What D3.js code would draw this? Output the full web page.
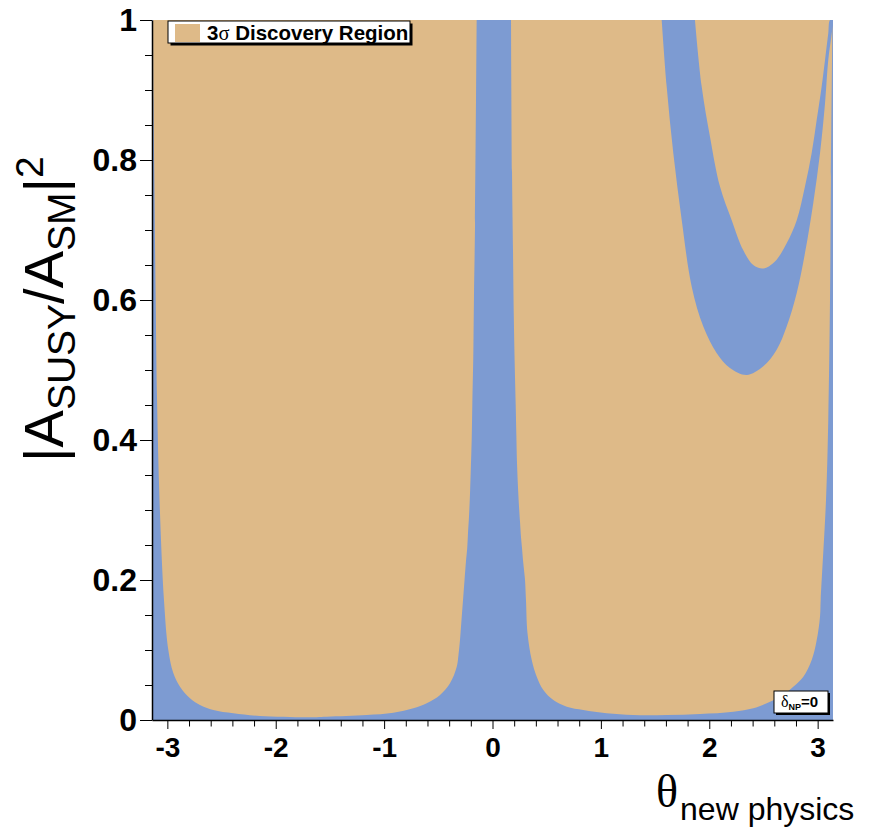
<!DOCTYPE html>
<html>
<head>
<meta charset="utf-8">
<script src="https://cdn.jsdelivr.net/npm/d3@7"></script>
<style>
  body { margin: 0; background: #fff; }
  svg { display: block; font-family: "Liberation Sans", Arial, sans-serif; }
</style>
</head>
<body>
<svg id="chart" width="870" height="828"></svg>
<script>
// boundaries: [theta, |A_SUSY/A_SM|^2]
const leftRegion = [
  [-3.132, 1.0], [-3.128, 0.886], [-3.119, 0.761], [-3.109, 0.620], [-3.095, 0.457],
  [-3.072, 0.314], [-3.031, 0.171], [-2.991, 0.100], [-2.945, 0.067], [-2.883, 0.0476],
  [-2.791, 0.031], [-2.699, 0.0214], [-2.576, 0.0143], [-2.391, 0.0096], [-2.145, 0.0057],
  [-1.714, 0.0039], [-1.530, 0.0047], [-1.161, 0.0071], [-0.915, 0.0104], [-0.731, 0.0167],
  [-0.607, 0.0239], [-0.484, 0.0357], [-0.392, 0.0524], [-0.330, 0.076], [-0.314, 0.093],
  [-0.300, 0.114], [-0.286, 0.143], [-0.272, 0.171], [-0.258, 0.200], [-0.245, 0.226],
  [-0.233, 0.246], [-0.226, 0.267], [-0.217, 0.290], [-0.208, 0.321], [-0.201, 0.354],
  [-0.192, 0.400], [-0.186, 0.453], [-0.177, 0.521], [-0.171, 0.604], [-0.161, 0.710],
  [-0.146, 1.0]
];

const rightRegion = [
  [0.171, 1.0], [0.180, 0.783], [0.189, 0.671], [0.196, 0.581], [0.205, 0.507],
  [0.214, 0.450], [0.220, 0.407], [0.226, 0.367], [0.235, 0.333], [0.245, 0.304],
  [0.254, 0.283], [0.263, 0.261], [0.272, 0.246], [0.281, 0.229], [0.291, 0.214],
  [0.300, 0.200], [0.309, 0.171], [0.323, 0.124], [0.362, 0.0857], [0.408, 0.0619],
  [0.469, 0.0429], [0.561, 0.0286], [0.685, 0.019], [0.838, 0.0143], [1.054, 0.0096],
  [1.299, 0.0071], [1.607, 0.0071], [1.914, 0.0086], [2.222, 0.0119], [2.406, 0.0167],
  [2.530, 0.0239], [2.653, 0.0333], [2.775, 0.0476], [2.868, 0.0619], [2.945, 0.0857],
  [2.991, 0.114], [3.022, 0.148], [3.028, 0.171], [3.077, 0.314], [3.098, 0.429],
  [3.114, 0.600], [3.123, 0.776], [3.137, 1.0]
];

// the blue band inside the right region
const bandOuter = [
  [1.561, 1.0], [1.607, 0.905], [1.668, 0.810], [1.746, 0.714], [1.838, 0.619],
  [1.945, 0.562], [2.069, 0.524], [2.191, 0.503], [2.345, 0.493], [2.496, 0.505],
  [2.622, 0.529], [2.714, 0.562], [2.807, 0.610], [2.883, 0.667], [2.960, 0.739],
  [3.022, 0.810], [3.068, 0.881], [3.098, 0.943], [3.130, 0.981], [3.1416, 1.0]
];
const bandInner = [
  [1.868, 1.0], [1.930, 0.905], [2.007, 0.833], [2.099, 0.762], [2.207, 0.714],
  [2.314, 0.671], [2.406, 0.650], [2.499, 0.645], [2.606, 0.655], [2.714, 0.681],
  [2.807, 0.714], [2.883, 0.762], [2.945, 0.810], [2.991, 0.857], [3.037, 0.905],
  [3.068, 0.943], [3.098, 0.981], [3.114, 1.0]
];

const xTicks = [-3, -2, -1, 0, 1, 2, 3];
const yTicks = [0, 0.2, 0.4, 0.6, 0.8, 1];

const tan = "#deba88";
const blue = "#7d9bd2";

const svg = d3.select("#chart");
const x = d3.scaleLinear().domain([-Math.PI, Math.PI]).range([152, 833]);
const y = d3.scaleLinear().domain([0, 1]).range([720, 20]);

svg.append("clipPath").attr("id", "plotclip")
  .append("rect")
  .attr("x", x(-Math.PI)).attr("y", y(1))
  .attr("width", x(Math.PI) - x(-Math.PI)).attr("height", y(0) - y(1));

const plot = svg.append("g").attr("clip-path", "url(#plotclip)");

plot.append("rect")
  .attr("x", x(-Math.PI)).attr("y", y(1))
  .attr("width", x(Math.PI) - x(-Math.PI)).attr("height", y(0) - y(1))
  .attr("fill", blue);

const line = d3.line()
  .x(d => x(d[0]))
  .y(d => y(d[1]))
  .curve(d3.curveCatmullRom);

plot.append("path").attr("d", line(leftRegion) + "Z").attr("fill", tan);
plot.append("path").attr("d", line(rightRegion) + "Z").attr("fill", tan);
plot.append("path")
  .attr("d", line(bandOuter.concat(bandInner.slice().reverse())) + "Z")
  .attr("fill", blue);

// x axis
const minorX = d3.range(-3.2, 3.3, 0.2).filter(v => Math.abs(v - Math.round(v)) > 0.01 && Math.abs(v) < Math.PI);
svg.append("g")
  .attr("transform", `translate(0,${y(0)})`)
  .call(d3.axisBottom(x).tickValues(minorX).tickSize(6.5).tickSizeOuter(0).tickFormat(""))
  .call(g => g.select(".domain").remove());
const gx = svg.append("g")
  .attr("transform", `translate(0,${y(0)})`)
  .call(d3.axisBottom(x).tickValues(xTicks).tickSize(9).tickSizeOuter(0)
    .tickPadding(8).tickFormat(d => String(d)));
gx.select(".domain").attr("stroke-width", 1.5);
gx.selectAll("text").attr("font-size", 28).attr("font-weight", "bold")
  .attr("font-family", "Liberation Sans, Arial, sans-serif").attr("fill", "#000");

// y axis
const minorY = d3.range(0.05, 1, 0.05).filter(v => Math.abs(v * 5 - Math.round(v * 5)) > 0.01);
svg.append("g")
  .attr("transform", `translate(${x(-Math.PI)},0)`)
  .call(d3.axisLeft(y).tickValues(minorY).tickSize(7).tickSizeOuter(0).tickFormat(""))
  .call(g => g.select(".domain").remove());
const gy = svg.append("g")
  .attr("transform", `translate(${x(-Math.PI)},0)`)
  .call(d3.axisLeft(y).tickValues(yTicks).tickSize(12).tickSizeOuter(0)
    .tickPadding(3).tickFormat(d => String(d)));
gy.select(".domain").attr("stroke-width", 1.5);
gy.selectAll("text").attr("font-size", 32).attr("font-weight", "bold")
  .attr("font-family", "Liberation Sans, Arial, sans-serif").attr("fill", "#000");

// axis titles
const xt = svg.append("text")
  .attr("x", 656).attr("y", 807)
  .attr("fill", "#000");
xt.append("tspan").attr("font-family", "Liberation Serif, serif").attr("font-size", 46).text("θ");
xt.append("tspan").attr("font-size", 32).attr("dx", 2).attr("dy", 13).text("new physics");

const yt = svg.append("text")
  .attr("transform", "translate(63,462) rotate(-90)")
  .attr("font-size", 56).attr("fill", "#000");
yt.append("tspan").text("|A");
yt.append("tspan").attr("font-size", 39).attr("dy", 12).text("SUSY");
yt.append("tspan").attr("dy", -12).text("/A");
yt.append("tspan").attr("font-size", 39).attr("dy", 12).text("SM");
yt.append("tspan").attr("dy", -12).text("|");
yt.append("tspan").attr("font-size", 39).attr("dy", -20).text("2");

// legend
const lg = svg.append("g");
lg.append("rect").attr("x", 170.5).attr("y", 23.5).attr("width", 242).attr("height", 22).attr("fill", "#000");
lg.append("rect").attr("x", 168).attr("y", 21).attr("width", 242).attr("height", 22)
  .attr("fill", "#fff").attr("stroke", "#000").attr("stroke-width", 1);
lg.append("rect").attr("x", 175).attr("y", 24).attr("width", 25).attr("height", 18).attr("fill", tan);
const lt = lg.append("text").attr("x", 207).attr("y", 40)
  .attr("font-size", 20.5).attr("font-weight", "bold").attr("fill", "#000");
lt.append("tspan").text("3");
lt.append("tspan").attr("font-family", "Liberation Serif, serif").attr("font-weight", "normal").text("σ");
lt.append("tspan").text(" Discovery Region");

// delta label
const dl = svg.append("g");
dl.append("rect").attr("x", 776).attr("y", 693).attr("width", 54).attr("height", 22).attr("fill", "#000");
dl.append("rect").attr("x", 774).attr("y", 691).attr("width", 54).attr("height", 22)
  .attr("fill", "#fff").attr("stroke", "#000").attr("stroke-width", 1);
const dt = dl.append("text").attr("x", 781).attr("y", 707).attr("fill", "#000");
dt.append("tspan").attr("font-family", "Liberation Serif, serif").attr("font-size", 16).text("δ");
dt.append("tspan").attr("font-size", 9).attr("font-weight", "bold").attr("dy", 3).text("NP");
dt.append("tspan").attr("font-size", 15).attr("font-weight", "bold").attr("dy", -3).text("=0");
</script>
</body>
</html>
